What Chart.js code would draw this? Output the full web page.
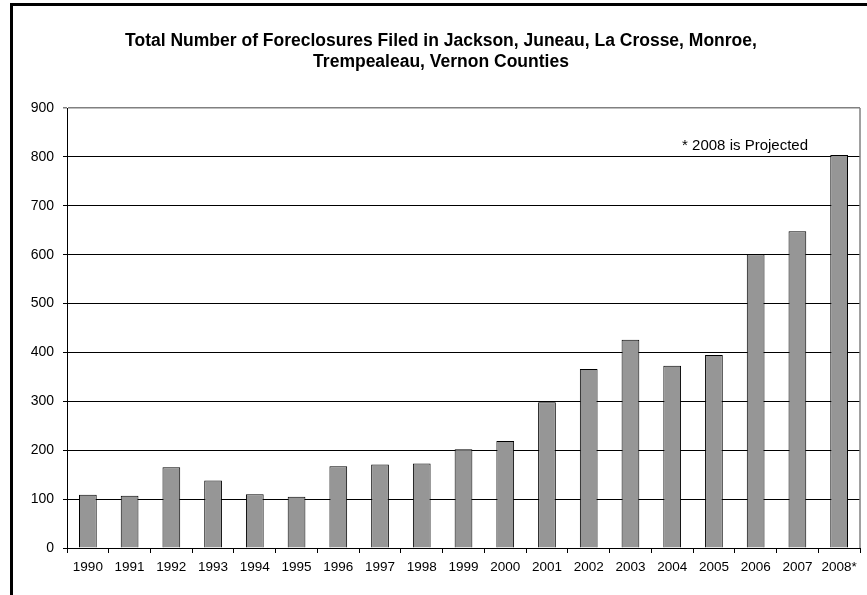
<!DOCTYPE html>
<html>
<head>
<meta charset="utf-8">
<title>Foreclosures Filed</title>
<script src="https://cdn.jsdelivr.net/npm/chart.js@4.4.1/dist/chart.umd.min.js"></script>
<style>
    html, body { margin: 0; padding: 0; background: #fff; overflow: hidden; }
    .moldura {
        position: absolute; left: 10px; top: 3px; width: 870px; height: 600px;
        border-left: 3px solid #000; border-top: 3px solid #000;
    }
    .caixa { position: absolute; left: 0; top: 0; width: 867px; height: 595px; }
</style>
</head>
<body>
<div class="moldura"></div>
<div class="caixa"><canvas id="graficoExecucoes"></canvas></div>
<script>
const anos = ['1990', '1991', '1992', '1993', '1994', '1995', '1996', '1997', '1998', '1999',
              '2000', '2001', '2002', '2003', '2004', '2005', '2006', '2007', '2008*'];
const execucoes = [109, 107, 165, 138, 110, 105, 167, 171, 173, 202,
                   219, 298, 366, 426, 373, 395, 601, 648, 804];
const titulo = ['Total Number of Foreclosures Filed in Jackson, Juneau, La Crosse, Monroe,',
                'Trempealeau, Vernon Counties'];
const nota = '* 2008 is Projected';

const fonte = "'Liberation Sans', Arial, sans-serif";

// borda cinza do lado direito da area do grafico + nota do ano projetado
const molduraPlot = {
    id: 'molduraPlot',
    afterDraw(chart) {
        const { ctx, chartArea, scales } = chart;
        ctx.save();
        ctx.strokeStyle = '#808080';
        ctx.lineWidth = 1.5;
        ctx.beginPath();
        ctx.moveTo(chartArea.right, chartArea.top);
        ctx.lineTo(chartArea.right, chartArea.bottom);
        ctx.stroke();

        ctx.fillStyle = '#000';
        ctx.font = '15px ' + fonte;
        ctx.textAlign = 'right';
        ctx.textBaseline = 'alphabetic';
        ctx.fillText(nota, chartArea.right - 52, scales.y.getPixelForValue(815));
        ctx.restore();
    }
};

const grafico = new Chart(document.getElementById('graficoExecucoes'), {
    type: 'bar',
    data: {
        labels: anos,
        datasets: [{
            label: 'Foreclosures',
            data: execucoes,
            backgroundColor: '#969696',
            borderColor: '#000',
            borderWidth: 1,
            barPercentage: 0.425,
            categoryPercentage: 1
        }]
    },
    options: {
        responsive: true,
        maintainAspectRatio: false,
        animation: false,
        layout: { padding: { left: 22, right: 7, top: 0, bottom: 0 } },
        plugins: {
            legend: { display: false },
            tooltip: { enabled: false },
            title: {
                display: true,
                text: titulo,
                color: '#000',
                font: { family: fonte, size: 17.5, weight: 'bold', lineHeight: 1.2 },
                padding: { top: 31, bottom: 35 }
            }
        },
        scales: {
            x: {
                afterFit: (escala) => { escala.height = 47; },
                border: { color: '#000', width: 1 },
                grid: {
                    offset: true,
                    drawOnChartArea: false,
                    drawTicks: true,
                    tickLength: 5,
                    color: '#000'
                },
                ticks: {
                    color: '#000',
                    padding: 6,
                    maxRotation: 0,
                    autoSkip: false,
                    font: { family: fonte, size: 13.5 }
                }
            },
            y: {
                min: 0,
                max: 900,
                afterFit: (escala) => { escala.width = 45; },
                border: { color: '#000', width: 1 },
                grid: {
                    color: (c) => c.tick && c.tick.value === 900 ? '#808080' : '#000',
                    lineWidth: (c) => c.tick && c.tick.value === 900 ? 1.5 : 1,
                    drawTicks: true,
                    tickLength: 4
                },
                ticks: {
                    stepSize: 100,
                    color: '#000',
                    padding: 9,
                    font: { family: fonte, size: 14 }
                }
            }
        }
    },
    plugins: [molduraPlot]
});
</script>
</body>
</html>
